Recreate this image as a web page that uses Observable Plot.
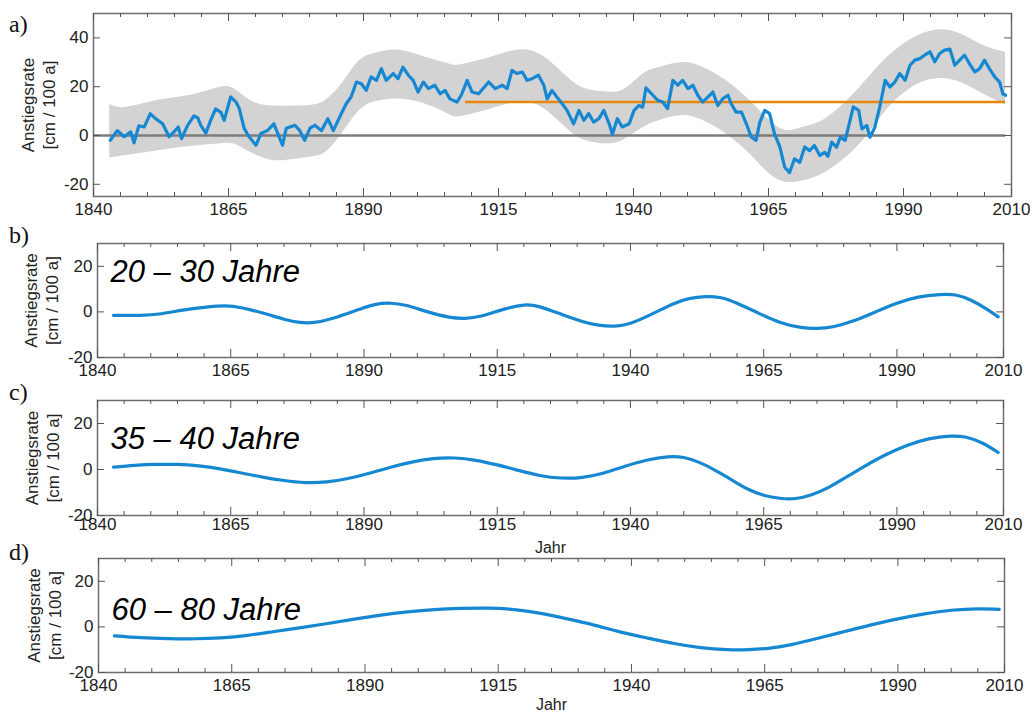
<!DOCTYPE html>
<html><head><meta charset="utf-8">
<script src="https://cdn.jsdelivr.net/npm/d3@7"></script>
<script src="https://cdn.jsdelivr.net/npm/@observablehq/plot@0.6"></script>
<style>
body{margin:0;background:#fff;font-family:"Liberation Sans",Arial,sans-serif;}
#wrap{position:relative;width:1033px;height:713px;overflow:hidden;background:#fff;}
.panel{position:absolute;left:0;}
.tag{position:absolute;left:9px;font-family:"Liberation Serif","Times New Roman",serif;font-size:24px;line-height:24px;color:#111;}
</style></head><body><div id="wrap"></div>
<script>
// ---------- data ----------
const xLabels = [1840, 1865, 1890, 1915, 1940, 1965, 1990, 2010];
const xMinor = d3.range(1840, 2011, 5).filter(d => !xLabels.includes(d));
const yTicksA = [-20, 0, 20, 40];
const yTicksB = [-20, 0, 20];

// panel a: observed rise rate (cm / 100 a)
const yearsA = [1843.1,1844.4,1845.7,1846.9,1847.5,1848.4,1849.4,1850.5,1851.5,1852.8,1854.0,1854.9,1855.7,1856.3,1857.4,1858.6,1859.3,1859.9,1860.8,1861.7,1862.6,1863.6,1864.2,1865.4,1866.4,1867.0,1867.9,1868.8,1870.1,1871.0,1872.2,1873.4,1875.0,1875.7,1877.3,1878.2,1879.1,1880.1,1881.0,1882.2,1883.4,1884.4,1885.3,1885.9,1886.8,1887.7,1888.7,1889.6,1890.5,1891.4,1892.4,1893.3,1894.2,1895.5,1896.4,1897.3,1898.3,1899.2,1900.1,1901.1,1902.0,1903.2,1904.2,1905.1,1906.0,1907.3,1908.1,1909.2,1910.1,1911.3,1913.2,1914.4,1915.7,1916.6,1917.5,1918.4,1919.4,1920.3,1921.2,1922.4,1923.4,1924.0,1924.9,1925.8,1926.8,1927.7,1928.9,1929.9,1930.8,1931.7,1932.6,1933.6,1934.5,1935.5,1936.1,1937.0,1937.9,1939.2,1940.1,1941.0,1941.7,1942.3,1943.6,1944.5,1945.4,1946.3,1947.3,1948.2,1949.1,1950.1,1951.0,1951.9,1952.8,1953.8,1954.7,1955.6,1956.5,1957.5,1958.1,1959.0,1960.0,1960.9,1961.8,1962.7,1963.4,1964.3,1965.2,1966.1,1967.1,1968.0,1968.9,1969.8,1970.8,1971.7,1972.6,1973.5,1974.5,1975.4,1976.0,1976.7,1977.6,1978.3,1979.2,1979.8,1980.7,1981.7,1982.3,1983.2,1983.8,1984.7,1985.6,1986.6,1987.5,1988.4,1989.3,1990.3,1991.2,1992.1,1993.0,1993.9,1994.9,1995.8,1996.7,1997.6,1998.6,1999.5,2000.4,2001.3,2002.2,2003.2,2004.1,2005.0,2005.9,2006.9,2007.8,2008.4,2008.9];
const valuesA = [-2,2,-0.5,1.5,-3,4,3.5,8.9,6.9,4.8,-0.5,1.5,3.5,-1.3,4,8,7.3,4,1,6.2,10.9,9.5,6.2,15.8,13.7,11,2.9,-0.5,-4,0.8,2,4.8,-4,3,4.2,2,-2,3,4.2,2,6.9,2,6.2,9,13,15.8,21.9,21.2,18.5,24,22.6,27.4,22.6,25.4,23.3,28,24.7,22.6,17.8,21.9,19.2,20.6,17.1,18.5,15,13.7,16.5,22.6,17.8,17.1,21.9,19.2,20.6,19.2,26.7,25.4,26,22.6,23.3,24.7,20.6,15,18.5,15.8,13,10.3,4.8,10.3,6.2,9,5.5,6.9,10.3,4.8,0.5,6.9,3.5,4.8,10.3,12.3,11.6,19.5,16.5,14.4,13.7,11,22.6,20.6,22.6,19.2,20.6,16.5,13.7,15.8,17.8,12.3,15,16.5,13,9.6,9.6,4.8,-0.6,-2,5.5,10.3,9,0.8,-4.7,-13,-15.2,-9.6,-11,-4.7,-6.2,-4.1,-8.2,-6.9,-8.5,-2.7,-4.8,-0.7,-2,3.4,11.7,10.3,2.7,4.1,-0.7,3.4,11.7,22.6,19.9,21.9,25.4,22.6,28.8,30.9,31.5,32.9,34.3,30.2,33.6,35,35.4,28.8,30.9,32.9,29.5,26.1,27.4,30.9,27.4,24,21.9,17.1,16.5];

// panel a: uncertainty band
const bandYears = [1843,1846,1852,1858,1863,1866,1869,1872,1875,1880,1883,1886,1889,1892,1896.4,1901.3,1905.6,1908,1913.8,1918.7,1923,1927.4,1931.1,1935.4,1938.5,1942,1945,1949,1952.8,1957.1,1961.5,1965.2,1968.3,1971.4,1976,1982,1986.3,1991.2,1996.1,2000.4,2004.7,2008.9];
const bandLow  = [-9.2,-8.2,-6.2,-4.5,-3.5,-3.5,-6.9,-9.6,-10.3,-8.9,-6.9,0.7,9.6,13.7,15,13,8.9,7.8,11,13.7,11.6,3.4,-2,-3.4,-1.4,3.5,6.2,8.2,6.2,0.7,-7.5,-15.8,-19.2,-18.5,-14.5,-3.4,8.9,19.2,23.3,21.9,17.1,12.5];
const bandHigh = [12.8,11.5,14.4,16.5,19.5,19.2,14.4,12.3,12.0,12.3,14.4,21.2,30.1,33.6,35,32.2,29.5,29,32.2,35,32.9,24.7,19.2,17.8,19.2,25.5,28,29.9,28,22.6,14.4,6.2,2,3.4,7.5,19.9,30.5,39.1,43.2,41.8,37,34];

// panel a: reference lines
const zeroLine = [{x1: 1840, x2: 2008.9, y: 0}];
const meanLine = [{x1: 1908.9, x2: 2008.9, y: 13.7}];

// panel b: 20–30 Jahre
const yearsB = [1843,1848,1852,1856,1860,1864,1867,1871,1875,1878,1881,1885,1889,1892,1895,1898,1902,1906,1909,1912,1916,1920,1923,1927,1931,1934,1937,1940,1944,1948,1951,1954,1957,1960,1964,1968,1972,1975,1978,1982,1986,1990,1994,1998,2001,2004,2007,2009];
const valuesB = [-1.5,-1.5,-0.8,0.8,2.0,2.6,1.8,-0.5,-3.2,-4.6,-4.5,-2.2,1.0,3.2,3.8,2.8,0.0,-2.3,-2.8,-1.8,1.0,3.0,2.2,-1.0,-4.2,-5.8,-6.2,-5.0,-1.0,3.5,5.8,6.7,6.2,3.8,-0.5,-4.5,-6.8,-7.2,-6.5,-3.8,0.0,3.8,6.5,7.6,7.4,5.0,1.0,-2.2];

// panel c: 35–40 Jahre
const yearsC = [1843,1847,1851,1855,1859,1863,1867,1871,1875,1879,1883,1887,1891,1895,1899,1903,1907,1911,1915,1919,1923,1927,1931,1935,1939,1943,1947,1950,1953,1956,1959,1962,1965,1968,1971,1974,1977,1980,1984,1988,1992,1996,2000,2003,2006,2009];
const valuesC = [1.0,1.8,2.2,2.2,1.6,0.3,-1.5,-3.3,-4.8,-5.7,-5.4,-3.9,-1.6,1.0,3.2,4.7,5.0,4.0,2.0,-0.4,-2.6,-3.7,-3.4,-1.5,1.4,4.0,5.5,5.2,3.0,-0.5,-4.5,-8.5,-11.2,-12.5,-12.6,-11.0,-8.0,-4.0,1.5,6.5,10.5,13.3,14.5,14.0,11.5,7.4];

// panel d: 60–80 Jahre
const yearsD = [1843,1848,1853,1858,1863,1868,1873,1878,1883,1888,1893,1898,1903,1908,1913,1918,1923,1928,1933,1938,1943,1948,1953,1958,1962,1966,1970,1975,1980,1985,1990,1995,2000,2005,2009];
const valuesD = [-3.9,-4.7,-5.1,-5.2,-4.8,-3.7,-2.0,-0.3,1.5,3.4,5.2,6.6,7.6,8.1,8.2,7.6,5.9,3.5,0.8,-2.3,-4.9,-7.3,-9.1,-10.0,-10.0,-9.3,-7.8,-5.0,-2.0,0.9,3.5,5.7,7.3,7.9,7.7];

const yLabel = "Anstiegsrate\n[cm / 100 a]";
const panelTitles = ["20 – 30 Jahre", "35 – 40 Jahre", "60 – 80 Jahre"];
const tags = ["a)", "b)", "c)", "d)"];

// ---------- helpers ----------
const zip = (xs, ys) => xs.map((x, i) => ({year: x, value: ys[i]}));
const seriesA = zip(yearsA, valuesA);
const band = bandYears.map((x, i) => ({year: x, lo: bandLow[i], hi: bandHigh[i]}));
const BLUE = "#1688d2";
const W = 1033;

function panel(cfg) {
  const innerH = cfg.height - cfg.mt - cfg.mb;
  const innerW = W - cfg.ml - cfg.mr;
  const tickCol = "#555";
  const marks = [
    ...cfg.marks,
    Plot.frame({stroke: "#6e6e6e", strokeWidth: 1.5}),
    Plot.tickX(xMinor, {x: d => d, insetTop: innerH - 4, stroke: tickCol}),
    Plot.tickX(xMinor, {x: d => d, insetBottom: innerH - 4, stroke: tickCol}),
    Plot.tickX(xLabels, {x: d => d, insetTop: innerH - 8, stroke: tickCol}),
    Plot.tickX(xLabels, {x: d => d, insetBottom: innerH - 8, stroke: tickCol}),
    Plot.tickY(cfg.yTicks, {y: d => d, insetRight: innerW - 7, stroke: tickCol}),
    Plot.tickY(cfg.yTicks, {y: d => d, insetLeft: innerW - 7, stroke: tickCol}),
    Plot.axisX({ticks: xLabels, tickSize: 0, tickPadding: cfg.xPad, tickFormat: d => String(d), fontSize: 17, label: null, fill: "#222"}),
    Plot.axisY({ticks: cfg.yTicks, tickSize: 0, tickPadding: 5, tickFormat: d => String(d), fontSize: 17, label: null, fill: "#222"}),
    Plot.text([yLabel], {frameAnchor: "left", dx: cfg.labelDx, rotate: -90, textAnchor: "middle", lineAnchor: "middle", fontSize: 17, lineHeight: 1.2, fill: "#222"})
  ];
  if (cfg.title) marks.push(Plot.text([cfg.title], {frameAnchor: "top-left", dx: 13, dy: cfg.titleDy, textAnchor: "start", lineAnchor: "top", fontSize: 31, fontStyle: "italic", fill: "#000"}));
  if (cfg.jahr) marks.push(Plot.text(["Jahr"], {frameAnchor: "bottom", dy: cfg.jahr, lineAnchor: "middle", fontSize: 16, fill: "#222"}));
  const svg = Plot.plot({
    width: W, height: cfg.height,
    marginTop: cfg.mt, marginBottom: cfg.mb, marginLeft: cfg.ml, marginRight: cfg.mr,
    x: {domain: [1840, 2010]},
    y: {domain: cfg.yDomain},
    style: {fontFamily: "Liberation Sans, Arial, sans-serif", fontSize: "17px", color: "#222", background: "transparent", overflow: "visible"},
    marks
  });
  const div = document.createElement("div");
  div.className = "panel";
  div.style.top = cfg.top + "px";
  div.appendChild(svg);
  document.getElementById("wrap").appendChild(div);
}

panel({
  top: 0, height: 225, mt: 13, mb: 29, ml: 93, mr: 22, yDomain: [-25, 50], yTicks: yTicksA, xPad: 6, labelDx: -55.5,
  marks: [
    Plot.areaY(band, {x: "year", y1: "lo", y2: "hi", fill: "#d3d3d3", curve: "natural"}),
    Plot.ruleY(zeroLine, {x1: "x1", x2: "x2", y: "y", stroke: "#7d7d7d", strokeWidth: 2.5}),
    Plot.ruleY(meanLine, {x1: "x1", x2: "x2", y: "y", stroke: "#e8870e", strokeWidth: 2.5}),
    Plot.line(seriesA, {x: "year", y: "value", stroke: BLUE, strokeWidth: 3.2, strokeLinejoin: "round"})
  ]
});
panel({
  top: 230, height: 147, mt: 13, mb: 20, ml: 97, mr: 30, yDomain: [-20, 30], yTicks: yTicksB, xPad: 6, labelDx: -56.5,
  title: panelTitles[0], titleDy: 16,
  marks: [Plot.line(zip(yearsB, valuesB), {x: "year", y: "value", stroke: BLUE, strokeWidth: 3.2, curve: "natural"})]
});
panel({
  top: 387, height: 168, mt: 13, mb: 40, ml: 97, mr: 30, yDomain: [-20, 30], yTicks: yTicksB, xPad: 2, labelDx: -55.5,
  title: panelTitles[1], titleDy: 26, jahr: 32,
  marks: [Plot.line(zip(yearsC, valuesC), {x: "year", y: "value", stroke: BLUE, strokeWidth: 3.2, curve: "natural"})]
});
panel({
  top: 545, height: 168, mt: 13, mb: 41, ml: 98, mr: 29, yDomain: [-20, 30], yTicks: yTicksB, xPad: 6, labelDx: -54.5,
  title: panelTitles[2], titleDy: 39, jahr: 32,
  marks: [Plot.line(zip(yearsD, valuesD), {x: "year", y: "value", stroke: BLUE, strokeWidth: 3.2, curve: "natural"})]
});

const tagTops = [12, 223, 380, 540];
tags.forEach((t, i) => {
  const d = document.createElement("div");
  d.className = "tag";
  d.style.top = tagTops[i] + "px";
  d.textContent = t;
  document.getElementById("wrap").appendChild(d);
});
</script></body></html>
